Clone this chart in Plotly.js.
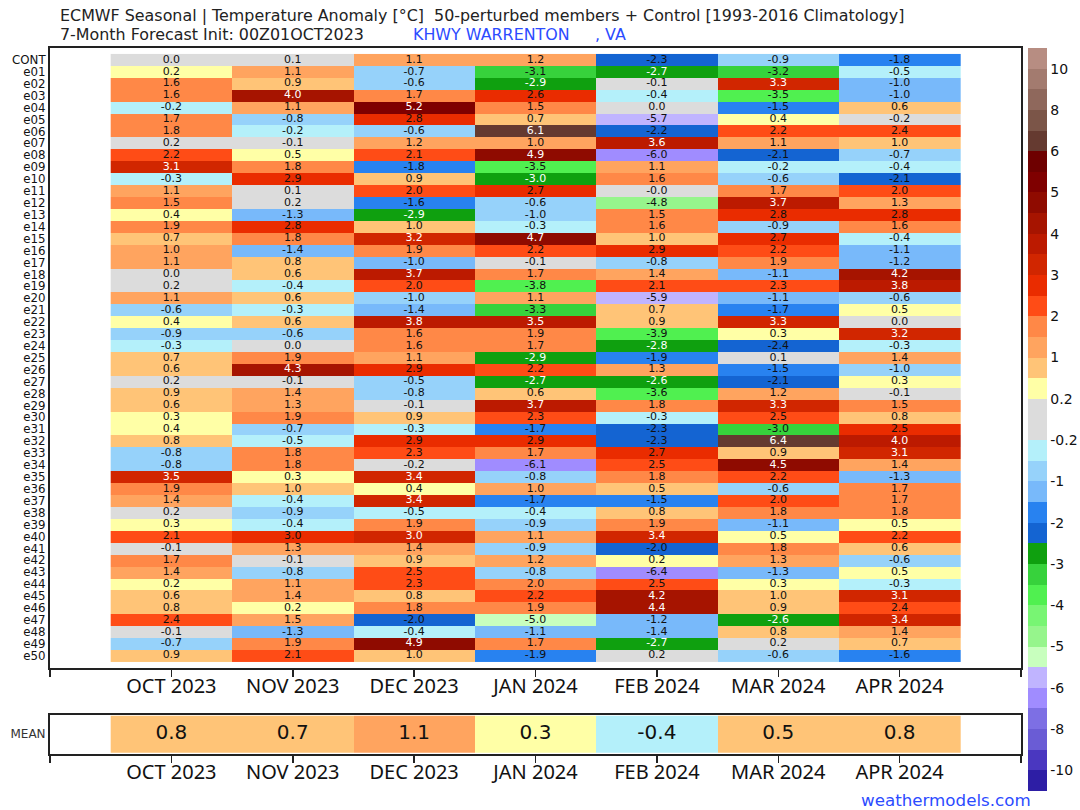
<!DOCTYPE html>
<html>
<head>
<meta charset="utf-8">
<script src="https://cdn.plot.ly/plotly-3.0.1.min.js"></script>
<style>html,body{margin:0;padding:0;background:#fff}#chart{width:1080px;height:810px}</style>
</head>
<body>
<div id="chart"></div>
<script>
const months = ['OCT 2023','NOV 2023','DEC 2023','JAN 2024','FEB 2024','MAR 2024','APR 2024'];
const members = ['CONT','e01','e02','e03','e04','e05','e06','e07','e08','e09','e10','e11','e12','e13','e14','e15','e16','e17','e18','e19','e20','e21','e22','e23','e24','e25','e26','e27','e28','e29','e30','e31','e32','e33','e34','e35','e36','e37','e38','e39','e40','e41','e42','e43','e44','e45','e46','e47','e48','e49','e50'];

const oct23 = [0.0,0.24,1.6,1.6,-0.24,1.7,1.8,0.16,2.2,3.1,-0.3,1.1,1.54,0.4,1.9,0.7,1.04,1.1,0.0,0.16,1.1,-0.6,0.4,-0.9,-0.3,0.7,0.6,0.16,0.9,0.6,0.3,0.4,0.8,-0.8,-0.8,3.46,1.9,1.4,0.16,0.3,2.1,-0.1,1.7,1.4,0.24,0.6,0.8,2.4,-0.1,-0.7,0.9];
const nov23 = [0.1,1.1,0.9,4.04,1.1,-0.8,-0.24,-0.1,0.46,1.8,2.9,0.1,0.16,-1.3,2.8,1.8,-1.4,0.8,0.6,-0.4,0.6,-0.3,0.6,-0.6,0.0,1.9,4.3,-0.1,1.4,1.3,1.9,-0.7,-0.46,1.8,1.8,0.3,0.96,-0.4,-0.9,-0.4,2.96,1.3,-0.1,-0.8,1.1,1.4,0.24,1.46,-1.3,1.9,2.1];
const dec23 = [1.1,-0.7,-0.6,1.7,5.2,2.8,-0.6,1.2,2.1,-1.8,0.9,2.04,-1.6,-2.9,0.96,3.2,1.9,-1.04,3.7,2.04,-0.96,-1.4,3.8,1.6,1.6,1.1,2.9,-0.54,-0.8,-0.1,0.9,-0.3,2.9,2.3,-0.16,3.4,0.4,3.4,-0.46,1.9,3.04,1.4,0.9,2.46,2.3,0.8,1.8,-2.04,-0.4,4.9,0.96];
const jan24 = [1.2,-3.1,-2.9,2.6,1.54,0.7,6.1,1.04,4.9,-3.54,-2.96,2.7,-0.6,-0.96,-0.3,4.7,2.2,-0.1,1.7,-3.8,1.1,-3.3,3.54,1.9,1.7,-2.9,2.2,-2.7,0.6,3.7,2.3,-1.7,2.9,1.7,-6.1,-0.8,1.04,-1.7,-0.4,-0.9,1.1,-0.9,1.2,-0.8,1.96,2.2,1.9,-5.04,-1.1,1.7,-1.9];
const feb24 = [-2.3,-2.7,-0.1,-0.4,0.0,-5.7,-2.2,3.6,-6.04,1.1,1.6,-0.04,-4.8,1.54,1.6,0.96,2.9,-0.8,1.4,2.1,-5.9,0.7,0.9,-3.9,-2.8,-1.9,1.3,-2.6,-3.6,1.8,-0.3,-2.3,-2.3,2.7,2.46,1.8,0.54,-1.54,0.8,1.9,3.4,-2.04,0.24,-6.4,2.46,4.2,4.4,-1.2,-1.4,-2.7,0.16];
const mar24 = [-0.9,-3.2,3.3,-3.54,-1.54,0.4,2.2,1.1,-2.1,-0.24,-0.6,1.7,3.7,2.8,-0.9,2.7,2.2,1.9,-1.1,2.3,-1.1,-1.7,3.3,0.3,-2.4,0.1,-1.54,-2.1,1.2,3.3,2.46,-3.04,6.4,0.9,4.5,2.2,-0.6,2.04,1.8,-1.1,0.46,1.8,1.3,-1.3,0.3,0.96,0.9,-2.6,0.8,0.16,-0.6];
const apr24 = [-1.8,-0.46,-1.04,-1.04,0.6,-0.16,2.4,0.96,-0.7,-0.4,-2.1,2.04,1.3,2.8,1.6,-0.4,-1.1,-1.2,4.2,3.8,-0.6,0.46,0.0,3.2,-0.3,1.4,-0.96,0.3,-0.1,1.54,0.8,2.54,3.96,3.1,1.4,-1.3,1.7,1.7,1.8,0.46,2.2,0.6,-0.6,0.46,-0.3,3.1,2.4,3.4,1.4,0.7,-1.6];
const meanValues = [0.8,0.7,1.1,0.3,-0.4,0.54,0.8];

const levels = [-11,-10,-9,-8,-7,-6,-5.5,-5,-4.5,-4,-3.5,-3,-2.5,-2,-1.5,-1,-0.5,-0.2,0,0.2,0.5,1,1.5,2,2.5,3,3.5,4,4.5,5,5.5,6,7,8,9,10,11];
const binColors = ['#2D1EA5','#4A37C0','#6A5CD5','#7D6FE4','#A08CFF','#C0B4FF','#C8FFBE','#96F58C','#78F573','#50F050','#37D23C','#0FA00F','#1464D2','#2882F0','#78B9FA','#96D2FA','#B4F0FA','#DCDCDC','#DCDCDC','#FFFFA6','#FFC477','#FFA45F','#FF8847','#FF4C16','#EA2C00','#D12600','#BC1A00','#A61400','#8F0B00','#7F0000','#6E0000','#653A30','#7B5548','#8F685C','#A37B6F','#B78D82'];
const colorbarTicks = [10,8,6,5,4,3,2,1,0.2,-0.2,-1,-2,-3,-4,-5,-6,-8,-10];

const W = 1080, H = 810;
const px = v => v / W, py = v => 1 - v / H;
const columns = [oct23,nov23,dec23,jan24,feb24,mar24,apr24];
const binOf = v => { let k = 0; while (k < levels.length - 2 && v >= levels[k + 1]) k++; return k; };
const inkOf = v => (v >= 3 || (v >= -3 && v < -2.5)) ? '#ffffff' : '#111111';
const colIdx = months.map((_, i) => i);
const rowIdx = members.map((_, i) => i);

const colorscale = [];
binColors.forEach((c, i) => { colorscale.push([i / binColors.length, c]); colorscale.push([(i + 1) / binColors.length, c]); });

const tx = [], ty = [], tt = [], tc = [];
rowIdx.forEach(r => colIdx.forEach(c => {
  const v = columns[c][r];
  tx.push(c); ty.push(r); tt.push(v.toFixed(1)); tc.push(inkOf(v));
}));

const data = [
  {type:'heatmap', x:colIdx, y:rowIdx, z:rowIdx.map(r => colIdx.map(c => binOf(columns[c][r]) + 0.5)), coloraxis:'coloraxis', hoverinfo:'skip', xgap:0, ygap:0},
  {type:'scatter', mode:'text', x:tx, y:ty, text:tt, textposition:'middle center', textfont:{family:'DejaVu Sans', size:11, color:tc}, hoverinfo:'skip', showlegend:false},
  {type:'heatmap', x:colIdx, y:[0], z:[meanValues.map(v => binOf(v) + 0.5)], xaxis:'x2', yaxis:'y2', coloraxis:'coloraxis', hoverinfo:'skip'},
  {type:'scatter', mode:'text', x:colIdx, y:colIdx.map(() => 0), xaxis:'x2', yaxis:'y2', text:meanValues.map(v => v.toFixed(1)), textposition:'middle center', textfont:{family:'DejaVu Sans', size:20, color:'#111111'}, hoverinfo:'skip', showlegend:false}
];

const xTicks = [-1].concat(colIdx, [7]);
const xLabels = [''].concat(months, ['']);
const xCommon = {
  range:[-1,7], tickmode:'array', tickvals:xTicks, ticktext:xLabels, ticks:'outside', ticklen:7, tickwidth:1.5, tickcolor:'#222',
  showline:true, mirror:true, linecolor:'#222', linewidth:2, showgrid:false, zeroline:false,
  tickfont:{family:'Noto Sans', size:20, color:'#111'}, tickangle:0, ticklabelstandoff:-8, domain:[px(50), px(1021)]
};

const layout = {
  width:W, height:H, margin:{l:0,r:0,t:0,b:0}, paper_bgcolor:'#fff', plot_bgcolor:'#fff', showlegend:false,
  xaxis:Object.assign({anchor:'y'}, xCommon),
  yaxis:{domain:[py(667.5), py(48)], range:[51,-1], tickmode:'array', tickvals:rowIdx, ticktext:members, ticks:'', showline:true, mirror:true, linecolor:'#222', linewidth:2, showgrid:false, zeroline:false, tickfont:{family:'DejaVu Sans', size:11.8, color:'#111'}, anchor:'x'},
  xaxis2:Object.assign({anchor:'y2'}, xCommon),
  yaxis2:{domain:[py(753.5), py(715)], range:[-0.52,0.52], tickmode:'array', tickvals:[0], ticktext:['MEAN'], ticks:'', showline:true, mirror:true, linecolor:'#222', linewidth:2, showgrid:false, zeroline:false, tickfont:{family:'DejaVu Sans', size:12, color:'#333'}, anchor:'x2'},
  coloraxis:{cmin:0, cmax:binColors.length, colorscale:colorscale, showscale:true, colorbar:{
    x:px(1028), xanchor:'left', xpad:0, y:py(48), yanchor:'top', ypad:0, lenmode:'pixels', len:743, thicknessmode:'pixels', thickness:19,
    outlinewidth:0, borderwidth:0, ticks:'', tickmode:'array', tickvals:colorbarTicks.map(t => levels.indexOf(t)), ticktext:colorbarTicks.map(String),
    tickfont:{family:'DejaVu Sans', size:14, color:'#111'}
  }},
  annotations:[
    {xref:'paper', yref:'paper', x:px(58), y:py(15.5), xanchor:'left', yanchor:'middle', showarrow:false, text:'ECMWF Seasonal | Temperature Anomaly [°C]\u00a0\u00a050-perturbed members + Control [1993-2016 Climatology]', font:{family:'DejaVu Sans', size:15.9, color:'#222'}},
    {xref:'paper', yref:'paper', x:px(58), y:py(34.5), xanchor:'left', yanchor:'middle', showarrow:false, text:'7-Month Forecast Init: 00Z01OCT2023', font:{family:'DejaVu Sans', size:15.9, color:'#222'}},
    {xref:'paper', yref:'paper', x:px(411), y:py(34.5), xanchor:'left', yanchor:'middle', showarrow:false, text:'KHWY WARRENTON\u00a0\u00a0\u00a0\u00a0\u00a0, VA', font:{family:'DejaVu Sans', size:15.9, color:'#2C4BFF'}},
    {xref:'paper', yref:'paper', x:px(1033), y:py(800), xanchor:'right', yanchor:'middle', showarrow:false, text:'weathermodels.com', font:{family:'DejaVu Sans', size:16.7, color:'#2C4BFF'}}
  ]
};

Plotly.newPlot('chart', data, layout, {displayModeBar:false, staticPlot:true});
</script>
</body>
</html>
